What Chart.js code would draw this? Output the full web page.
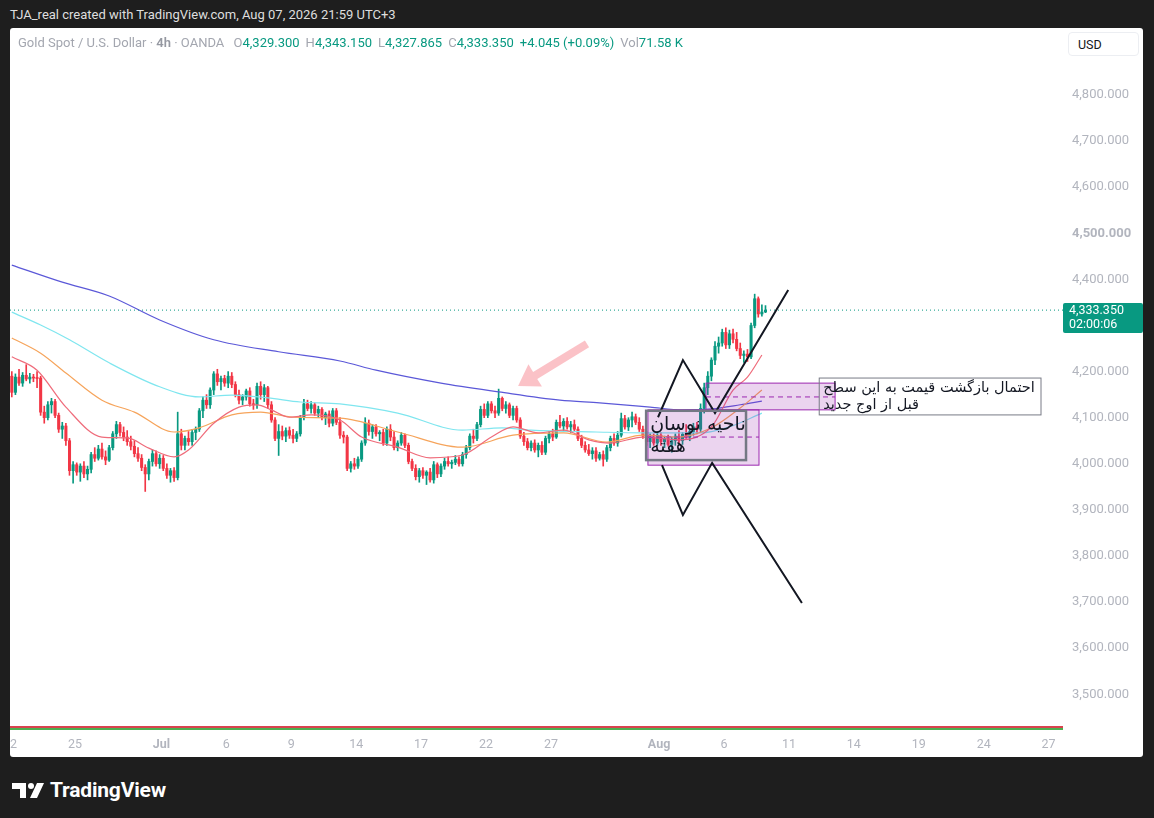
<!DOCTYPE html>
<html lang="en">
<head>
<meta charset="UTF-8">
<title>Gold Spot / U.S. Dollar 4h</title>
<script src="https://cdn.jsdelivr.net/npm/chart.js@4.4.1/dist/chart.umd.min.js"></script>
<style>
  * { margin: 0; padding: 0; box-sizing: border-box; }
  body {
    width: 1154px; height: 818px; overflow: hidden; position: relative;
    background: #1e1e1e;
    font-family: Roboto, 'Liberation Sans', sans-serif;
  }
  .credit { position: absolute; left: 10px; top: 7px; color: #dedede; font-size: 13px; }
  .panel { position: absolute; left: 10px; top: 28px; width: 1133px; height: 729px; background: #fff; border-radius: 3px; }
  #wrap { position: absolute; left: 10px; top: 30px; width: 1133px; height: 727px; }
  .legend { position: absolute; left: 18px; top: 35px; font-size: 13px; color: #a3a6af; white-space: nowrap; }
  .legend b { font-weight: 600; color: #9598a1; }
  .legend .k { margin-left: 6px; }
  .legend .v { color: #089981; }
  .usd {
    position: absolute; left: 1068px; top: 32px; width: 71px; height: 24px;
    border: 1px solid #eceef2; border-radius: 4px; background: #fff;
    font-size: 12.5px; color: #131722; padding: 4px 0 0 9px;
  }
  .brand { position: absolute; left: 12px; top: 778px; display: flex; align-items: center; gap: 6px; color: #fff; }
  .brand span { font-size: 21px; font-weight: 700; letter-spacing: -0.2px; }
</style>
</head>
<body>
<div class="credit">TJA_real created with TradingView.com, Aug 07, 2026 21:59 UTC+3</div>
<div class="panel"></div>
<div id="wrap"><canvas id="goldChart"></canvas></div>
<div class="legend" id="legend"></div>
<div class="usd">USD</div>
<div class="brand">
  <svg width="32" height="18" viewBox="0 0 32 18">
    <path d="M0 2H14V17H8V8H0Z" fill="#fff"/>
    <circle cx="19" cy="5" r="3" fill="#fff"/>
    <path d="M25 2H32L25 17H18Z" fill="#fff"/>
  </svg>
  <span>TradingView</span>
</div>

<script>
// 4h candles, Jun 22 - Aug 7 (bar index 0 = first bar of Jun 22)
const opens = [
  4190,4155,4188,4175,4192,4184,4188,4186,4186,4112,
  4100,4128,4135,4105,4075,4082,4050,3985,3998,3982,
  3995,3978,3988,4020,4012,4032,4015,4008,4035,4065,
  4085,4068,4058,4048,4038,4022,4012,3992,3978,4005,
  4022,4000,4012,3990,3975,3985,3970,4065,4040,4055,
  4048,4068,4075,4115,4138,4128,4160,4195,4178,4185,
  4175,4190,4172,4150,4138,4145,4158,4130,4128,4168,
  4150,4165,4128,4095,4055,4070,4060,4072,4062,4055,
  4065,4100,4130,4120,4128,4110,4118,4100,4108,4088,
  4115,4090,4062,4058,3990,4000,3995,4010,4045,4088,
  4070,4080,4065,4068,4045,4075,4058,4035,4045,4062,
  4040,4005,3990,3972,3985,3975,3982,3965,3998,3978,
  3995,4005,4000,4003,4010,4000,4020,4035,4060,4055,
  4085,4118,4105,4130,4115,4110,4142,4120,4128,4105,
  4120,4095,4060,4048,4035,4045,4030,4040,4025,4055,
  4065,4058,4090,4082,4092,4080,4085,4075,4055,4040,
  4030,4022,4028,4012,4020,4010,4035,4055,4045,4062,
  4098,4080,4095,4102,4090,4075,4060,4048,4058,4045,
  4062,4048,4055,4042,4050,4060,4050,4064,4058,4070,
  4080,4075,4120,4165,4190,4225,4255,4262,4285,4258,
  4282,4270,4250,4235,4238,4232,4300,4358,4325,4329.3
];
const highs = [
  4200,4195,4205,4198,4215,4196,4194,4200,4190,4125,
  4135,4142,4140,4110,4090,4088,4055,4005,4002,4000,
  4005,3995,4025,4035,4040,4045,4028,4040,4070,4092,
  4090,4080,4072,4060,4050,4035,4020,3998,4010,4030,
  4028,4020,4018,4000,3990,3992,4112,4075,4060,4070,
  4075,4080,4120,4145,4150,4165,4200,4205,4190,4192,
  4200,4198,4178,4160,4150,4162,4165,4140,4175,4178,
  4172,4168,4135,4100,4085,4082,4078,4080,4075,4070,
  4105,4140,4138,4135,4132,4125,4122,4112,4115,4120,
  4120,4100,4070,4062,4005,4012,4015,4050,4100,4095,
  4085,4085,4072,4075,4080,4085,4070,4050,4068,4065,
  4045,4010,3998,3990,3992,3985,3990,4005,4002,4000,
  4012,4015,4008,4018,4015,4025,4040,4065,4075,4090,
  4125,4130,4135,4135,4125,4162,4145,4135,4132,4125,
  4125,4100,4068,4055,4050,4052,4045,4048,4060,4070,
  4075,4095,4105,4098,4100,4092,4095,4080,4062,4048,
  4042,4035,4035,4025,4028,4040,4060,4065,4070,4110,
  4105,4100,4112,4108,4100,4082,4070,4065,4065,4070,
  4068,4060,4062,4058,4065,4072,4068,4085,4075,4088,
  4090,4130,4175,4200,4230,4265,4275,4292,4295,4290,
  4292,4285,4262,4245,4248,4305,4368,4362,4345,4343.15
];
const lows = [
  4145,4150,4170,4168,4180,4175,4178,4165,4105,4088,
  4095,4110,4100,4068,4055,4040,3975,3958,3975,3962,
  3970,3965,3980,4005,4008,4010,3998,4005,4030,4055,
  4060,4050,4040,4030,4015,4005,3985,3940,3965,3995,
  3995,3990,3985,3968,3960,3962,3965,4030,4030,4040,
  4040,4052,4070,4100,4120,4120,4150,4170,4160,4168,
  4165,4165,4145,4130,4128,4138,4125,4118,4120,4140,
  4135,4120,4090,4050,4018,4052,4048,4055,4045,4048,
  4060,4095,4115,4110,4105,4100,4095,4085,4080,4082,
  4085,4055,4045,3985,3982,3988,3990,4005,4040,4062,
  4055,4060,4050,4040,4040,4050,4030,4028,4040,4035,
  4000,3985,3965,3960,3968,3955,3960,3958,3970,3972,
  3988,3995,3990,3998,3995,3995,4012,4030,4045,4050,
  4080,4100,4100,4110,4100,4105,4115,4110,4100,4095,
  4090,4055,4040,4030,4028,4025,4015,4020,4020,4045,
  4050,4055,4078,4072,4075,4068,4070,4050,4035,4025,
  4018,4010,4005,4008,3995,4005,4028,4040,4038,4058,
  4075,4072,4080,4085,4070,4055,4040,4035,4040,4040,
  4040,4035,4038,4025,4040,4045,4042,4055,4050,4062,
  4065,4070,4110,4150,4180,4215,4240,4255,4250,4250,
  4262,4245,4228,4220,4222,4228,4295,4318,4320,4327.865
];
const closes = [
  4155,4188,4175,4192,4184,4188,4186,4185,4112,4100,
  4128,4135,4105,4075,4082,4050,3985,3998,3982,3995,
  3978,3988,4020,4012,4032,4015,4008,4035,4065,4085,
  4068,4058,4048,4038,4022,4012,3992,3978,4005,4022,
  4000,4012,3990,3975,3985,3970,4065,4040,4055,4048,
  4068,4075,4115,4138,4128,4160,4195,4178,4185,4175,
  4190,4172,4150,4138,4145,4158,4130,4128,4168,4150,
  4165,4128,4095,4055,4070,4060,4072,4062,4055,4065,
  4100,4130,4120,4128,4110,4118,4100,4108,4088,4115,
  4090,4062,4058,3990,4000,3995,4010,4045,4088,4070,
  4080,4065,4068,4045,4075,4058,4035,4045,4062,4040,
  4005,3990,3972,3985,3975,3982,3965,3998,3978,3995,
  4005,4000,4003,4010,4000,4020,4035,4060,4055,4085,
  4118,4105,4130,4115,4110,4142,4120,4128,4105,4120,
  4095,4060,4048,4035,4045,4030,4040,4025,4055,4065,
  4058,4090,4082,4092,4080,4085,4075,4055,4040,4030,
  4022,4028,4012,4020,4010,4035,4055,4045,4062,4098,
  4080,4095,4102,4090,4075,4060,4048,4058,4045,4062,
  4048,4055,4042,4050,4060,4050,4064,4058,4070,4080,
  4075,4120,4165,4190,4225,4255,4262,4285,4258,4282,
  4270,4250,4235,4238,4232,4300,4358,4325,4329.305,4333.35
];
const volumeText = '71.58 K';

// moving averages (bar index, price)
const ma20Bars = [0,7,15,25,32,38,45,49,56,63,68,72,77,83,91,97,107,116,125,133,139,146,153,160,166,175,185,194,200,204,208];
const ma20     = [4232,4203,4123,4058,4056,4034,4015,4030,4088,4123,4128,4117,4101,4106,4095,4058,4036,4013,4019,4058,4080,4067,4073,4052,4045,4058,4052,4080,4160,4188,4236];
const ma50Bars = [0,8,15,25,34,45,52,61,69,78,91,107,125,139,153,165,175,185,194,202,208];
const ma50     = [4273,4240,4197,4138,4112,4069,4078,4106,4112,4101,4099,4069,4036,4062,4067,4047,4062,4058,4078,4121,4160];
const ma100Bars = [0,8,16,27,41,52,61,71,80,91,107,125,136,144,162,175,191,199,208];
const ma100     = [4329,4301,4269,4219,4167,4145,4149,4143,4134,4130,4110,4073,4078,4073,4069,4067,4067,4080,4110];
const ma200Bars = [0,14,27,41,56,74,91,101,119,135,152,163,177,186,194,202,208];
const ma200     = [4431,4394,4364,4312,4269,4243,4223,4203,4175,4156,4138,4132,4123,4117,4119,4128,4136];

// time axis
const tickBars   = [0, 18, 42, 60, 78, 96, 114, 132, 150, 180, 198, 216, 234, 252, 270, 288];
const tickLabels = ['22','25','Jul','6','9','14','17','22','27','Aug','6','11','14','19','24','27'];
const monthLabels = ['Jul', 'Aug'];
const priceTicks = [3500,3600,3700,3800,3900,4000,4100,4200,4400,4500,4600,4700,4800];

// drawings (bar index, price)
const zigUpper = [[179.2,4101],[186.1,4225],[195.0,4110],[215.3,4377]];
const zigLower = [[180.3,3997],[186.1,3889],[194.2,4002],[219.1,3698]];
const zoneA = { from: 176.4, to: 207.2, top: 4117, bottom: 3997, mid: 4058 };
const zoneB = { from: 192.5, to: 228.3, top: 4175, bottom: 4117, mid: 4145 };
const noteA = { from: 175.9, to: 203.6, top: 4115, bottom: 4008, lines: ['ناحیه نوسان', 'هفته'] };
const noteB = { from: 223.9, to: 285.4, top: 4186, bottom: 4106, lines: ['احتمال بازگشت قیمت به این سطح', 'قبل از اوج جدید'] };
const arrowTail = [159.5, 4260];
const arrowTip  = [140.4, 4169];

const UP = '#089981', DOWN = '#f23645';
const last = closes.length - 1;
const fmt = v => v.toLocaleString('en-US', { minimumFractionDigits: 3, maximumFractionDigits: 3 });

// legend line
const change = closes[last] - closes[last - 1];
document.getElementById('legend').innerHTML =
  'Gold Spot / U.S. Dollar · <b>4h</b> · OANDA ' +
  '<span class="k">O</span><span class="v">' + fmt(opens[last]) + '</span>' +
  '<span class="k">H</span><span class="v">' + fmt(highs[last]) + '</span>' +
  '<span class="k">L</span><span class="v">' + fmt(lows[last]) + '</span>' +
  '<span class="k">C</span><span class="v">' + fmt(closes[last]) + '</span>' +
  '<span class="v" style="margin-left:6px">+' + change.toFixed(3) + ' (+' + (change / closes[last - 1] * 100).toFixed(2) + '%)</span>' +
  '<span class="k">Vol</span><span class="v">' + volumeText + '</span>';

const candleColors = closes.map((c, i) => c >= opens[i] ? UP : DOWN);
const toPoints = (bars, vals) => bars.map((b, i) => ({ x: b, y: vals[i] }));
const maLine = (bars, vals, color) => ({
  type: 'line', data: toPoints(bars, vals), borderColor: color, borderWidth: 1.2,
  pointRadius: 0, cubicInterpolationMode: 'monotone', order: 2
});

const drawings = {
  id: 'drawings',
  beforeDatasetDraw(chart, args) {
    if (chart.data.datasets[args.index].label !== 'zigzag') return;
    const { ctx } = chart, x = chart.scales.x, y = chart.scales.y;
    ctx.save();
    [zoneA, zoneB].forEach(z => {
      const l = x.getPixelForValue(z.from), r = x.getPixelForValue(z.to);
      const t = y.getPixelForValue(z.top), b = y.getPixelForValue(z.bottom);
      ctx.fillStyle = 'rgba(156,39,176,0.2)';
      ctx.fillRect(l, t, r - l, b - t);
      ctx.strokeStyle = '#9c27b0';
      ctx.lineWidth = 1;
      ctx.strokeRect(l, t, r - l, b - t);
      const m = y.getPixelForValue(z.mid);
      ctx.setLineDash([5, 4]);
      ctx.beginPath(); ctx.moveTo(l, m); ctx.lineTo(r, m); ctx.stroke();
      ctx.setLineDash([]);
    });

    // pink arrow
    const tx = x.getPixelForValue(arrowTail[0]), ty = y.getPixelForValue(arrowTail[1]);
    const hx = x.getPixelForValue(arrowTip[0]), hy = y.getPixelForValue(arrowTip[1]);
    const len = Math.hypot(hx - tx, hy - ty), ux = (hx - tx) / len, uy = (hy - ty) / len;
    const nx = -uy, ny = ux, bx = hx - ux * 20, by = hy - uy * 20;
    ctx.fillStyle = 'rgba(242,54,69,0.3)';
    ctx.beginPath();
    ctx.moveTo(tx + nx * 4, ty + ny * 4);
    ctx.lineTo(bx + nx * 4, by + ny * 4);
    ctx.lineTo(bx + nx * 13, by + ny * 13);
    ctx.lineTo(hx, hy);
    ctx.lineTo(bx - nx * 13, by - ny * 13);
    ctx.lineTo(bx - nx * 4, by - ny * 4);
    ctx.lineTo(tx - nx * 4, ty - ny * 4);
    ctx.closePath();
    ctx.fill();
    ctx.restore();
  },
  afterDatasetsDraw(chart) {
    const { ctx, chartArea } = chart, x = chart.scales.x, y = chart.scales.y;
    ctx.save();
    // collapsed indicator pane at the bottom
    ctx.fillStyle = '#d9434f';
    ctx.fillRect(chartArea.left, chartArea.bottom - 7, chartArea.width, 2);
    ctx.fillStyle = '#4caf50';
    ctx.fillRect(chartArea.left, chartArea.bottom - 5, chartArea.width, 2);

    // text notes
    [[noteA, 2.5, '#747884', 19, 14, 36], [noteB, 1, '#787b86', 14.5, 10, 27]].forEach(([n, lw, col, size, y1, y2]) => {
      const l = x.getPixelForValue(n.from), r = x.getPixelForValue(n.to);
      const t = y.getPixelForValue(n.top), b = y.getPixelForValue(n.bottom);
      ctx.strokeStyle = col;
      ctx.lineWidth = lw;
      ctx.strokeRect(l, t, r - l, b - t);
      ctx.fillStyle = '#131722';
      ctx.font = size + 'px "DejaVu Sans"';
      ctx.direction = 'rtl';
      ctx.textAlign = 'left';
      ctx.textBaseline = 'middle';
      ctx.fillText(n.lines[0], l + 4, t + y1);
      ctx.fillText(n.lines[1], l + 4, t + y2);
    });
    ctx.restore();
  },
  afterDraw(chart) {
    const { ctx, chartArea } = chart, y = chart.scales.y;
    const py = y.getPixelForValue(closes[last]);
    ctx.save();
    ctx.fillStyle = UP;
    ctx.beginPath();
    ctx.roundRect(chartArea.right, py - 7, 80, 30, 2);
    ctx.fill();
    ctx.fillStyle = '#fff';
    ctx.font = '12.5px Roboto';
    ctx.textAlign = 'left';
    ctx.textBaseline = 'middle';
    ctx.fillText(fmt(closes[last]), chartArea.right + 6, py + 1);
    ctx.fillText('02:00:06', chartArea.right + 6, py + 15);
    ctx.restore();
  }
};

Chart.defaults.font.family = 'Roboto, sans-serif';

new Chart(document.getElementById('goldChart'), {
  type: 'bar',
  data: {
    datasets: [
      {
        label: 'zigzag', type: 'line',
        data: [...toPoints(zigUpper.map(p => p[0]), zigUpper.map(p => p[1])), { x: 200, y: null },
               ...toPoints(zigLower.map(p => p[0]), zigLower.map(p => p[1]))],
        borderColor: '#131722', borderWidth: 2, pointRadius: 0, spanGaps: false, order: 0
      },
      {
        label: 'last', type: 'line',
        data: [{ x: -0.5, y: closes[last] }, { x: 291.5, y: closes[last] }],
        borderColor: UP, borderWidth: 1, borderDash: [1, 3], pointRadius: 0, order: 1
      },
      maLine(ma20Bars, ma20, '#ef6c7b'),
      maLine(ma50Bars, ma50, '#f6a45b'),
      maLine(ma100Bars, ma100, '#7fe6ef'),
      maLine(ma200Bars, ma200, '#5b58d8'),
      {
        label: 'bodies',
        data: opens.map((o, i) => ({ x: i, y: [o, closes[i]] })),
        backgroundColor: candleColors, barThickness: 2.4, minBarLength: 1, grouped: false, order: 3
      },
      {
        label: 'wicks',
        data: lows.map((l, i) => ({ x: i, y: [l, highs[i]] })),
        backgroundColor: candleColors, barThickness: 1, grouped: false, order: 4
      }
    ]
  },
  options: {
    responsive: true,
    maintainAspectRatio: false,
    animation: false,
    layout: { padding: 0 },
    plugins: { legend: { display: false }, tooltip: { enabled: false } },
    scales: {
      x: {
        type: 'linear', min: -0.5, max: 291.5, offset: false,
        grid: { display: false, drawTicks: false }, border: { display: false },
        afterBuildTicks: s => { s.ticks = tickBars.map(b => ({ value: b - 0.5 })); },
        afterFit: s => { s.height = 24; s.paddingLeft = 0; s.paddingRight = 0; },
        ticks: {
          autoSkip: false, maxRotation: 0, padding: 4, color: '#b2b5be',
          font: c => ({ size: 12.5, weight: monthLabels.includes(tickLabels[c.index]) ? 'bold' : 'normal' }),
          callback: (v, i) => tickLabels[i]
        }
      },
      y: {
        position: 'right', min: 3416, max: 4941,
        grid: { display: false, drawTicks: false }, border: { display: false },
        afterBuildTicks: s => { s.ticks = priceTicks.map(v => ({ value: v })); },
        afterFit: s => { s.width = 80; s.paddingTop = 0; s.paddingBottom = 0; },
        ticks: {
          padding: 9, color: '#b2b5be',
          font: c => ({ size: 13, weight: c.tick && c.tick.value === 4500 ? 'bold' : 'normal' }),
          callback: v => fmt(v)
        }
      }
    }
  },
  plugins: [drawings]
});
</script>
</body>
</html>
